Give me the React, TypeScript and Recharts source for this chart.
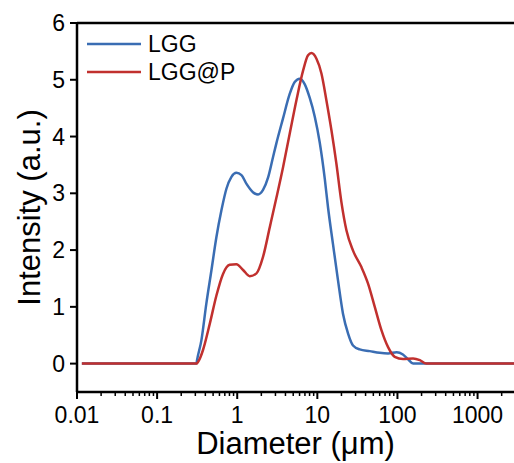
import { LineChart, Line, XAxis, YAxis, ReferenceLine, Legend, Label } from 'recharts';

// particle size distribution
const lggDiameter = [
	0.0115, 0.31, 0.315, 0.357, 0.412, 0.476, 0.55, 0.635, 0.733, 0.847, 0.977, 1.13, 1.3, 1.57,
	1.82, 2.1, 2.43, 2.8, 3.08, 3.73, 4.52, 5.22, 6.03, 6.97, 8.04, 9.29, 10.7, 12.4, 13.6, 15.7,
	18.1, 20.9, 24.2, 27.9, 33.8, 45.1, 60.1, 76.4, 97.7, 117, 135, 157, 2850,
];
const lggIntensity = [
	0, 0, 0.06, 0.41, 1.06, 1.64, 2.23, 2.7, 3.08, 3.29, 3.36, 3.32, 3.17, 3.02, 2.98, 3.06, 3.28,
	3.64, 3.88, 4.32, 4.75, 4.96, 5.02, 4.92, 4.68, 4.35, 3.9, 3.25, 2.75, 2.1, 1.47, 0.88, 0.53,
	0.32, 0.25, 0.22, 0.19, 0.18, 0.2, 0.16, 0.08, 0, 0,
];

const lgpDiameter = [
	0.0115, 0.309, 0.339, 0.374, 0.454, 0.55, 0.665, 0.805, 0.977, 1.183, 1.432, 1.738, 2.099,
	2.547, 3.083, 3.733, 4.519, 5.483, 6.637, 7.656, 8.433, 9.75, 11.25, 12.97, 15.0, 17.3, 19.95,
	23.07, 27.9, 35.5, 42.95, 52.1, 63.1, 76.4, 92.5, 117.5, 156.7, 190.5, 229, 2850,
];
const lgpIntensity = [
	0, 0, 0.08, 0.24, 0.7, 1.2, 1.58, 1.74, 1.75, 1.65, 1.54, 1.59, 1.88, 2.4, 2.92, 3.46, 4.05,
	4.64, 5.16, 5.43, 5.47, 5.37, 5.11, 4.64, 4.11, 3.52, 2.85, 2.35, 1.99, 1.7, 1.41, 1.0, 0.59,
	0.29, 0.12, 0.08, 0.09, 0.06, 0, 0,
];

const majorTicks = [0.01, 0.1, 1, 10, 100, 1000];
const minorSteps = [2, 3, 4, 5, 6, 7, 8, 9];
const yTicks = [0, 1, 2, 3, 4, 5, 6];

const X_MAX = 2850;
const xTicks = majorTicks
	.flatMap(m => [m, ...minorSteps.map(k => +(m * k).toPrecision(3))])
	.filter(t => t <= X_MAX);

const font = '"Liberation Sans", Arial, sans-serif';
const BLUE = '#3a6db3';
const RED = '#c1302e';

const toRows = (d: number[], v: number[]) => d.map((x, i) => ({ d: x, v: v[i] }));
const lggRows = toRows(lggDiameter, lggIntensity);
const lgpRows = toRows(lgpDiameter, lgpIntensity);

const XTick = (props: any) => {
	const { x, y, payload } = props;
	const major = majorTicks.includes(payload.value);
	return (
		<g>
			<line
				x1={x}
				x2={x}
				y1={y}
				y2={y + (major ? 7 : 4)}
				stroke='#000'
				strokeWidth={major ? 2 : 1.5}
			/>
			{major && (
				<text x={x} y={y + 31} textAnchor='middle' fontSize={23} fontFamily={font} fill='#000'>
					{payload.value}
				</text>
			)}
		</g>
	);
};

const XTitle = (props: any) => {
	const { x, y, width } = props.viewBox;
	return (
		<text x={x + width / 2} y={y + 62} textAnchor='middle' fontSize={31} fontFamily={font} fill='#000'>
			Diameter (μm)
		</text>
	);
};

const YTitle = (props: any) => {
	const { y, height } = props.viewBox;
	const cx = 40;
	const cy = y + height / 2;
	return (
		<text
			x={cx}
			y={cy}
			transform={`rotate(-90, ${cx}, ${cy})`}
			textAnchor='middle'
			fontSize={31}
			fontFamily={font}
			fill='#000'
		>
			Intensity (a.u.)
		</text>
	);
};

const renderLegend = () => (
	<svg width={180} height={60} style={{ display: 'block' }}>
		<line x1={7} x2={61} y1={16} y2={16} stroke={BLUE} strokeWidth={2.5} />
		<text x={68} y={24} fontSize={23} fontFamily={font} fill='#000'>
			LGG
		</text>
		<line x1={7} x2={61} y1={44} y2={44} stroke={RED} strokeWidth={2.5} />
		<text x={68} y={52} fontSize={23} fontFamily={font} fill='#000'>
			LGG@P
		</text>
	</svg>
);

export default function App() {
	return (
		<div style={{ position: 'absolute', left: 0, top: 0, width: 514, height: 463, background: '#fff' }}>
			<LineChart width={514} height={463} margin={{ top: 23, right: 0, bottom: 0, left: 0 }}>
				<XAxis
					dataKey='d'
					type='number'
					scale='log'
					domain={[0.01, X_MAX]}
					allowDataOverflow
					ticks={xTicks}
					interval={0}
					tick={<XTick />}
					tickLine={false}
					tickSize={0}
					tickMargin={0}
					height={71}
					axisLine={{ stroke: '#000', strokeWidth: 2.5 }}
				>
					<Label content={<XTitle />} />
				</XAxis>
				<YAxis
					type='number'
					domain={[-0.5, 6]}
					allowDataOverflow
					ticks={yTicks}
					interval={0}
					width={77}
					tickSize={7}
					tickMargin={5}
					tick={{ fill: '#000', fontSize: 23, fontFamily: font }}
					tickLine={{ stroke: '#000', strokeWidth: 2 }}
					axisLine={{ stroke: '#000', strokeWidth: 2.5 }}
				>
					<Label content={<YTitle />} />
				</YAxis>
				<ReferenceLine y={6} stroke='#000' strokeWidth={2.5} />
				<Legend
					content={renderLegend}
					layout='vertical'
					align='center'
					verticalAlign='middle'
					wrapperStyle={{ left: 80, top: 28, width: 180, height: 60 }}
				/>
				<Line
					data={lggRows}
					dataKey='v'
					name='LGG'
					type='monotone'
					stroke={BLUE}
					strokeWidth={2.5}
					dot={false}
					isAnimationActive={false}
				/>
				<Line
					data={lgpRows}
					dataKey='v'
					name='LGG@P'
					type='monotone'
					stroke={RED}
					strokeWidth={2.5}
					dot={false}
					isAnimationActive={false}
				/>
			</LineChart>
		</div>
	);
}
